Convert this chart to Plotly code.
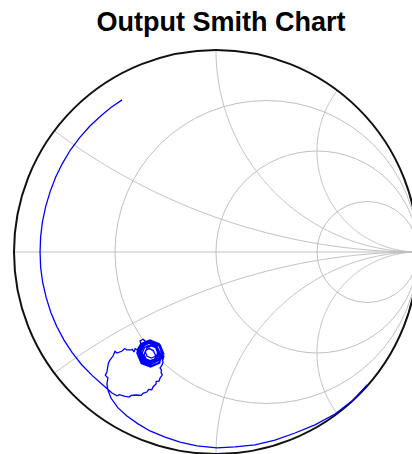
import numpy as np
import plotly.graph_objects as go

# ---- data: reflection coefficient (output), real / imaginary parts ----
gamma_re = [
    -0.465, -0.520, -0.568, -0.624, -0.675, -0.721, -0.760, -0.794, -0.821, -0.843,
    -0.859, -0.868, -0.871, -0.868, -0.858, -0.841, -0.818, -0.789, -0.753, -0.712,
    -0.665, -0.612, -0.567, -0.540,
    # loop bottom / right side (scalloped)
    -0.515, -0.490, -0.478, -0.455, -0.430, -0.420, -0.396, -0.370, -0.362, -0.342,
    -0.333, -0.318, -0.312, -0.297, -0.296, -0.282, -0.277, -0.266, -0.272, -0.270,
    -0.277, -0.267, -0.262, -0.267,
    # dense spiral
    -0.262, -0.280, -0.322, -0.364, -0.382, -0.364, -0.322, -0.280,
    -0.262, -0.281, -0.327, -0.373, -0.392, -0.373, -0.327, -0.281,
    -0.280, -0.295, -0.330, -0.365, -0.380, -0.365, -0.330, -0.295,
    -0.285, -0.297, -0.325, -0.353, -0.365, -0.353, -0.325, -0.297,
    -0.280, -0.296, -0.335, -0.374, -0.390, -0.374, -0.335, -0.296,
    -0.290, -0.299, -0.320, -0.341, -0.350, -0.341, -0.320, -0.299,
    -0.270, -0.285, -0.318, -0.352, -0.372, -0.360, -0.325, -0.290,
    -0.258, -0.276, -0.322, -0.366, -0.388, -0.370, -0.324, -0.278,
    -0.275, -0.292, -0.328, -0.360, -0.378, -0.366, -0.330, -0.296,
    -0.285, -0.302, -0.338, -0.368, -0.385, -0.370, -0.338, -0.300,
    -0.300, -0.310, -0.330, -0.348, -0.356, -0.346, -0.325, -0.305,
    -0.268, -0.285, -0.325, -0.362, -0.384, -0.368, -0.328, -0.288,
    -0.265, -0.282, -0.320, -0.356, -0.375, -0.362, -0.326, -0.290,
    -0.275, -0.262, -0.258, -0.270, -0.282,
    -0.300, -0.320, -0.350, -0.361, -0.376, -0.372,
    # loop top / left side (scalloped)
    -0.376, -0.391, -0.400, -0.406, -0.415, -0.421, -0.441, -0.452, -0.465, -0.490,
    -0.500, -0.510, -0.525, -0.532, -0.535, -0.540, -0.548, -0.535, -0.540, -0.535,
    # lower branch
    -0.520, -0.485, -0.441, -0.386, -0.327, -0.252, -0.178, -0.094, 0.005, 0.094,
    0.193, 0.292, 0.391, 0.490, 0.589, 0.673, 0.748,
]
gamma_im = [
    0.753, 0.715, 0.676, 0.624, 0.566, 0.505, 0.439, 0.370, 0.299, 0.226,
    0.151, 0.076, 0.000, -0.076, -0.151, -0.225, -0.298, -0.368, -0.435, -0.498,
    -0.558, -0.612, -0.652, -0.678,
    -0.698, -0.712, -0.706, -0.713, -0.718, -0.710, -0.708, -0.710, -0.700, -0.693,
    -0.680, -0.682, -0.668, -0.653, -0.640, -0.639, -0.624, -0.609, -0.596, -0.585,
    -0.574, -0.559, -0.545, -0.525,
    -0.505, -0.463, -0.445, -0.463, -0.505, -0.547, -0.565, -0.547,
    -0.500, -0.454, -0.435, -0.454, -0.500, -0.546, -0.566, -0.546,
    -0.495, -0.460, -0.445, -0.460, -0.495, -0.530, -0.545, -0.530,
    -0.500, -0.472, -0.460, -0.472, -0.500, -0.528, -0.540, -0.528,
    -0.500, -0.461, -0.445, -0.461, -0.500, -0.539, -0.555, -0.539,
    -0.495, -0.474, -0.465, -0.474, -0.495, -0.516, -0.525, -0.516,
    -0.490, -0.455, -0.440, -0.452, -0.490, -0.530, -0.548, -0.530,
    -0.505, -0.460, -0.440, -0.458, -0.505, -0.552, -0.570, -0.550,
    -0.505, -0.468, -0.450, -0.466, -0.505, -0.542, -0.560, -0.540,
    -0.498, -0.462, -0.448, -0.462, -0.498, -0.534, -0.548, -0.534,
    -0.510, -0.488, -0.478, -0.486, -0.508, -0.530, -0.538, -0.530,
    -0.500, -0.458, -0.440, -0.458, -0.500, -0.542, -0.560, -0.540,
    -0.502, -0.465, -0.447, -0.463, -0.502, -0.540, -0.556, -0.538,
    -0.525, -0.530, -0.515, -0.505, -0.515,
    -0.470, -0.450, -0.441, -0.432, -0.440, -0.455,
    -0.460, -0.485, -0.478, -0.495, -0.482, -0.485, -0.485, -0.478, -0.490, -0.500,
    -0.492, -0.515, -0.535, -0.548, -0.564, -0.594, -0.610, -0.624, -0.653, -0.683,
    -0.723, -0.772, -0.812, -0.851, -0.886, -0.916, -0.941, -0.960, -0.970, -0.965,
    -0.955, -0.931, -0.896, -0.856, -0.802, -0.738, -0.658,
]

# Smith chart grid values
resistance_vals = [1/3, 1.0, 3.0]
reactance_vals = [1/3, 1.0, 2.0]

GRID = "#c0c0c0"
shapes = []
# constant-resistance circles
for r in resistance_vals:
    c = r / (1 + r)
    rad = 1 / (1 + r)
    shapes.append(dict(type="circle", xref="x", yref="y", x0=c - rad, x1=c + rad,
                       y0=-rad, y1=rad, line=dict(color=GRID, width=1), layer="below"))
# real axis
shapes.append(dict(type="line", xref="x", yref="y", x0=-1, x1=1, y0=0, y1=0,
                   line=dict(color=GRID, width=1), layer="below"))
# constant-reactance arcs
for xv in reactance_vals:
    phib = np.arctan2((xv**2 - 1) / (xv * (xv**2 + 1)), -2 / (xv**2 + 1))
    if phib < 0:
        phib += 2 * np.pi
    t = np.linspace(phib, 1.5 * np.pi, 200)
    for sgn in (1, -1):
        px = 1 + (1 / xv) * np.cos(t)
        py = sgn * (1 / xv + (1 / xv) * np.sin(t))
        path = "M " + " L ".join(f"{a:.5f},{b:.5f}" for a, b in zip(px, py))
        shapes.append(dict(type="path", xref="x", yref="y", path=path,
                           line=dict(color=GRID, width=1), layer="below"))
# outer boundary
shapes.append(dict(type="circle", xref="x", yref="y", x0=-1, x1=1, y0=-1, y1=1,
                   line=dict(color="#111111", width=2), layer="below"))

fig = go.Figure()
fig.add_trace(go.Scatter(x=gamma_re, y=gamma_im, mode="lines",
                         line=dict(color="#0000ff", width=1.3), showlegend=False,
                         hoverinfo="skip"))

fig.update_layout(
    width=412, height=454,
    margin=dict(l=0, r=0, t=0, b=0),
    paper_bgcolor="white", plot_bgcolor="white",
    shapes=shapes,
    title=dict(text="<b>Output Smith Chart</b>", x=221/412, xanchor="center",
               xref="paper", yref="container", y=1 - 22/454, yanchor="middle",
               font=dict(family="Liberation Sans, Arial, sans-serif", size=27,
                         color="black")),
    xaxis=dict(range=[-216/202, 196/202], visible=False, showgrid=False,
               zeroline=False, fixedrange=True),
    yaxis=dict(range=[-202/202, 252/202], visible=False, showgrid=False,
               zeroline=False, fixedrange=True),
)

fig.write_html(
    "out.html",
    config={"displayModeBar": False},
    post_script="document.body.style.margin='0';document.body.style.overflow='hidden';",
)
